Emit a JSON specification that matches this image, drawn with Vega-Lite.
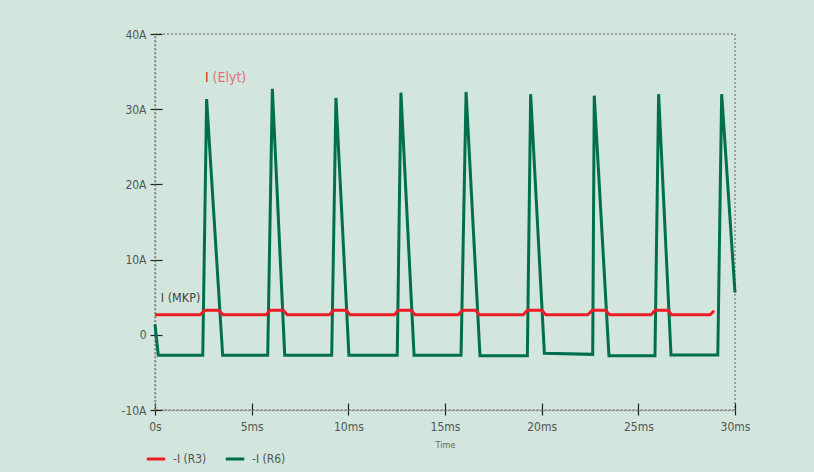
{
  "$schema": "https://vega.github.io/schema/vega-lite/v6.json",
  "width": 580,
  "height": 376,
  "autosize": {"type": "none"},
  "padding": {"left": 155, "top": 34, "right": 79, "bottom": 62},
  "background": "#d2e6dd",
  "config": {
    "font": "DejaVu Sans Condensed",
    "view": {"stroke": "#8a8a8a", "strokeDash": [2, 2], "strokeWidth": 1.5},
    "axis": {
      "grid": false,
      "domainColor": "#8a8a8a",
      "domainDash": [2, 2],
      "domainWidth": 1.5,
      "tickColor": "#222222",
      "tickWidth": 1.2,
      "labelFont": "DejaVu Sans Condensed",
      "labelColor": "#555555",
      "labelFlush": false,
      "titleFont": "DejaVu Sans Condensed",
      "titleColor": "#666666",
      "titleFontWeight": "normal"
    },
    "legend": {
      "orient": "none",
      "legendX": -10,
      "legendY": 414,
      "direction": "horizontal",
      "symbolType": "stroke",
      "symbolStrokeWidth": 3,
      "symbolSize": 340,
      "labelFont": "DejaVu Sans Condensed",
      "labelFontSize": 12,
      "labelColor": "#555555",
      "labelOffset": 6,
      "columnPadding": 12,
      "title": null
    }
  },
  "datasets": {
    "curves": [
      {"series": "-I (R6)", "t": 0, "I": 1.4},
      {"series": "-I (R6)", "t": 0.17, "I": -2.73},
      {"series": "-I (R6)", "t": 2.47, "I": -2.73},
      {"series": "-I (R6)", "t": 2.67, "I": 31.36},
      {"series": "-I (R6)", "t": 3.5, "I": -2.73},
      {"series": "-I (R6)", "t": 5.83, "I": -2.73},
      {"series": "-I (R6)", "t": 6.07, "I": 32.7},
      {"series": "-I (R6)", "t": 6.71, "I": -2.73},
      {"series": "-I (R6)", "t": 9.14, "I": -2.73},
      {"series": "-I (R6)", "t": 9.36, "I": 31.5},
      {"series": "-I (R6)", "t": 10.03, "I": -2.73},
      {"series": "-I (R6)", "t": 12.53, "I": -2.73},
      {"series": "-I (R6)", "t": 12.72, "I": 32.2},
      {"series": "-I (R6)", "t": 13.4, "I": -2.73},
      {"series": "-I (R6)", "t": 15.83, "I": -2.73},
      {"series": "-I (R6)", "t": 16.09, "I": 32.3},
      {"series": "-I (R6)", "t": 16.81, "I": -2.8},
      {"series": "-I (R6)", "t": 19.26, "I": -2.8},
      {"series": "-I (R6)", "t": 19.43, "I": 32.0},
      {"series": "-I (R6)", "t": 20.14, "I": -2.46},
      {"series": "-I (R6)", "t": 22.64, "I": -2.6},
      {"series": "-I (R6)", "t": 22.72, "I": 31.8},
      {"series": "-I (R6)", "t": 23.48, "I": -2.78},
      {"series": "-I (R6)", "t": 25.86, "I": -2.78},
      {"series": "-I (R6)", "t": 26.05, "I": 32.0},
      {"series": "-I (R6)", "t": 26.69, "I": -2.7},
      {"series": "-I (R6)", "t": 29.11, "I": -2.7},
      {"series": "-I (R6)", "t": 29.31, "I": 32.0},
      {"series": "-I (R6)", "t": 30.0, "I": 5.6},
      {"series": "-I (R3)", "t": 0, "I": 2.65},
      {"series": "-I (R3)", "t": 2.33, "I": 2.65},
      {"series": "-I (R3)", "t": 2.59, "I": 3.25},
      {"series": "-I (R3)", "t": 3.27, "I": 3.25},
      {"series": "-I (R3)", "t": 3.53, "I": 2.65},
      {"series": "-I (R3)", "t": 5.74, "I": 2.65},
      {"series": "-I (R3)", "t": 5.95, "I": 3.25},
      {"series": "-I (R3)", "t": 6.64, "I": 3.25},
      {"series": "-I (R3)", "t": 6.84, "I": 2.65},
      {"series": "-I (R3)", "t": 9.02, "I": 2.65},
      {"series": "-I (R3)", "t": 9.22, "I": 3.25},
      {"series": "-I (R3)", "t": 9.88, "I": 3.25},
      {"series": "-I (R3)", "t": 10.09, "I": 2.65},
      {"series": "-I (R3)", "t": 12.38, "I": 2.65},
      {"series": "-I (R3)", "t": 12.58, "I": 3.25},
      {"series": "-I (R3)", "t": 13.24, "I": 3.25},
      {"series": "-I (R3)", "t": 13.45, "I": 2.65},
      {"series": "-I (R3)", "t": 15.69, "I": 2.65},
      {"series": "-I (R3)", "t": 15.9, "I": 3.25},
      {"series": "-I (R3)", "t": 16.59, "I": 3.25},
      {"series": "-I (R3)", "t": 16.77, "I": 2.65},
      {"series": "-I (R3)", "t": 19.05, "I": 2.65},
      {"series": "-I (R3)", "t": 19.26, "I": 3.25},
      {"series": "-I (R3)", "t": 20.0, "I": 3.25},
      {"series": "-I (R3)", "t": 20.22, "I": 2.65},
      {"series": "-I (R3)", "t": 22.38, "I": 2.65},
      {"series": "-I (R3)", "t": 22.62, "I": 3.25},
      {"series": "-I (R3)", "t": 23.28, "I": 3.25},
      {"series": "-I (R3)", "t": 23.53, "I": 2.65},
      {"series": "-I (R3)", "t": 25.66, "I": 2.65},
      {"series": "-I (R3)", "t": 25.86, "I": 3.25},
      {"series": "-I (R3)", "t": 26.52, "I": 3.25},
      {"series": "-I (R3)", "t": 26.73, "I": 2.65},
      {"series": "-I (R3)", "t": 28.71, "I": 2.65},
      {"series": "-I (R3)", "t": 28.92, "I": 3.2}
    ],
    "labelsRed": [{"t": 2.59, "I": 34.2, "text": "I"}],
    "labelsPink": [{"t": 2.98, "I": 34.2, "text": "(Elyt)"}],
    "labelsGrey": [{"t": 0.3, "I": 4.96, "text": "I (MKP)"}]
  },
  "layer": [
    {
      "data": {"name": "curves"},
      "transform": [{"filter": "datum.series == '-I (R6)'"}],
      "mark": {"type": "line", "strokeWidth": 3, "strokeJoin": "miter", "clip": false},
      "encoding": {
        "x": {
          "field": "t", "type": "quantitative",
          "scale": {"domain": [0, 30], "nice": false, "zero": false},
          "axis": {
            "orient": "bottom", "values": [0, 5, 10, 15, 20, 25, 30],
            "labelExpr": "datum.value == 0 ? '0s' : datum.value + 'ms'",
            "tickSize": 5, "labelPadding": 6, "labelFontSize": 12,
            "title": "Time", "titleFontSize": 9, "titlePadding": 8
          }
        },
        "y": {
          "field": "I", "type": "quantitative",
          "scale": {"domain": [-10, 40], "nice": false, "zero": false},
          "axis": {
            "orient": "left", "values": [-10, 0, 10, 20, 30, 40],
            "labelExpr": "datum.value == 0 ? '0' : datum.value + 'A'",
            "tickSize": 5, "labelPadding": 4, "labelFontSize": 12,
            "title": null
          }
        },
        "color": {
          "field": "series", "type": "nominal",
          "scale": {"domain": ["-I (R3)", "-I (R6)"], "range": ["#ee1c25", "#006f4e"]}
        }
      }
    },
    {
      "data": {"name": "curves"},
      "transform": [{"filter": "datum.series == '-I (R3)'"}],
      "mark": {"type": "line", "strokeWidth": 3, "clip": false},
      "encoding": {
        "x": {
          "field": "t", "type": "quantitative",
          "axis": {"orient": "bottom", "values": [0, 5, 10, 15, 20, 25, 30], "tickSize": -7, "labels": false, "domain": false, "title": null}
        },
        "y": {
          "field": "I", "type": "quantitative",
          "axis": {"orient": "left", "values": [-10, 0, 10, 20, 30, 40], "tickSize": -7, "labels": false, "domain": false, "title": null}
        },
        "color": {"field": "series", "type": "nominal"}
      }
    },
    {
      "data": {"name": "labelsRed"},
      "mark": {"type": "text", "align": "left", "baseline": "middle", "fontSize": 14, "color": "#ee1c25"},
      "encoding": {
        "x": {"field": "t", "type": "quantitative", "axis": null},
        "y": {"field": "I", "type": "quantitative", "axis": null},
        "text": {"field": "text"}
      }
    },
    {
      "data": {"name": "labelsPink"},
      "mark": {"type": "text", "align": "left", "baseline": "middle", "fontSize": 14, "color": "#e0717a"},
      "encoding": {
        "x": {"field": "t", "type": "quantitative", "axis": null},
        "y": {"field": "I", "type": "quantitative", "axis": null},
        "text": {"field": "text"}
      }
    },
    {
      "data": {"name": "labelsGrey"},
      "mark": {"type": "text", "align": "left", "baseline": "middle", "fontSize": 12.5, "color": "#444444"},
      "encoding": {
        "x": {"field": "t", "type": "quantitative", "axis": null},
        "y": {"field": "I", "type": "quantitative", "axis": null},
        "text": {"field": "text"}
      }
    }
  ],
  "resolve": {"axis": {"x": "independent", "y": "independent"}}
}
